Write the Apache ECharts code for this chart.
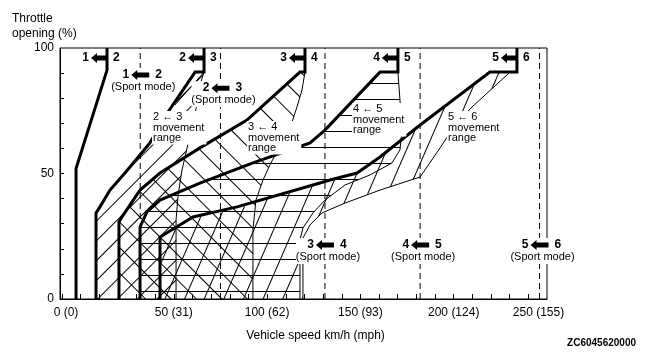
<!DOCTYPE html>
<html><head><meta charset="utf-8">
<script src="https://cdn.jsdelivr.net/npm/echarts@6/dist/echarts.min.js"></script>
<style>html,body{margin:0;padding:0;background:#fff}#c{width:646px;height:355px}</style>
</head><body><div id="c"></div>
<script>
// ---- axis ticks ----
const speedTicks = [0, 50, 100, 150, 200, 250];      // km/h
const mphTicks   = [0, 31, 62, 93, 124, 155];        // mph
const throttleTicks = [0, 50, 100];                  // %

// ---- normal-mode downshift lines (thick): [speed km/h, throttle %] ----
const line12 = [[14.2,100],[14.2,91.2],[-2.4,52],[-2.4,0]];
const line23 = [[66.2,100],[66.2,90.4],[61.4,90.4],[46.9,74.5],[37.2,62.2],[23.8,50.2],[15.8,43.4],[10.4,36.7],[8.3,34.3],[8.3,0]];
const line34 = [[120.3,100],[120.3,90.4],[117.6,90.4],[89.2,71.3],[64,60.2],[42.6,50.2],[31.9,43.4],[22.2,32.7],[20.6,30.7],[20.6,0]];
const line45 = [[170.1,100],[170.1,90.4],[160.5,90.4],[131,67.3],[123,62.2],[92.4,54.2],[64,46.2],[42.6,39.4],[35.6,34.7],[31.9,28.7],[31.9,0]];
const line56 = [[233.9,100],[233.9,90.4],[219.4,90.4],[182,69.3],[160.5,56.6],[148.2,50.2],[133.7,47.4],[128.3,46.2],[83.9,36.7],[60.3,32.7],[42.6,24.7],[42.6,0]];

// ---- outer limits of the movement ranges (thin) ----
const limit23 = [[66.2,90.4],[64,85.3],[62.4,77.3],[59.8,69.3],[57.1,60.2],[54.4,51.4],[52.3,41.4],[51.2,31.5],[51.2,0]];
const limit34 = [[120.3,90.4],[118.7,83.3],[116,76.5],[112.3,68.1],[108.5,63.3],[101.5,53.4],[97.8,47.4],[94,39.4],[92.4,27.5],[92.4,0]];
const limit45 = [[170.1,90.4],[171.2,79.3],[172.3,67.3],[171.2,59.4],[166.9,54.2],[155.1,49.4],[141.7,45.4],[131,39.4],[124.6,34.3],[119.2,28.3],[117.6,23.5],[117.6,0]];
const limit56 = [[230.2,90.4],[209.8,76.5],[200.7,69.3],[192.7,60.2],[182,48.6],[160.5,43.4],[141.7,38.2],[129.4,34.3],[123,29.5],[119.2,24.3],[119.2,0]];

// ---- caption leader line (2 <- 3) ----
const leader23 = [[66.2,90.4],[50.6,77.3]];

// ---- sport-mode shift speeds (dashed) ----
const sportSpeeds = [32, 75, 131, 182, 246];
const sportGears = [['1','2'],['2','3'],['3','4'],['4','5'],['5','6']];
const sportLabelThrottle = [89.2, 84, 21.5, 21.5, 21.5];

// ---- movement range captions ----
const rangeCaptions = ['2 \u2190 3\nmovement\nrange','3 \u2190 4\nmovement\nrange','4 \u2190 5\nmovement\nrange','5 \u2190 6\nmovement\nrange'];
const rangeCaptionAt = [[38.3,72.5],[89.2,68.5],[145.5,75.7],[196.4,72.5]];

const FONT = '"Liberation Sans", Arial, Helvetica, sans-serif';

function hatch(period, angleDeg, ox, oy) {
  const c = document.createElement('canvas');
  c.width = 8; c.height = period;
  const g = c.getContext('2d');
  g.fillStyle = '#000';
  g.fillRect(0, 0, 8, 1);
  return {image: c, repeat: 'repeat', rotation: angleDeg * Math.PI / 180, x: ox || 0, y: oy || 0};
}

function regionSeries(thick, thin, pattern) {
  const poly = thick.slice(2).concat(thin.slice().reverse());
  return {
    type: 'custom', z: 1, silent: true, animation: false, data: [0],
    renderItem: (params, api) => ({
      type: 'polygon',
      shape: {points: poly.map(p => api.coord(p))},
      style: {fill: pattern, stroke: null}
    })
  };
}
function lineSeries(data, width, type, z) {
  return {type: 'line', data, symbol: 'none', silent: true, animation: false, z,
    lineStyle: {color: '#000', width, type, join: 'miter'}};
}

function arrowPts(tipX, cy, len) {
  return [[tipX, cy], [tipX + 6, cy - 5], [tipX + 6, cy - 2.5], [tipX + len, cy - 2.5],
          [tipX + len, cy + 2.5], [tipX + 6, cy + 2.5], [tipX + 6, cy + 5]];
}

const thickLines = [line12, line23, line34, line45, line56];
const gearPairs = [['1','2'],['2','3'],['3','4'],['4','5'],['5','6']];

const annotations = {
  type: 'custom', z: 10, silent: true, animation: false, data: [0],
  renderItem: (params, api) => {
    const ch = [];
    const bold = 'bold 12px ' + FONT;
    thickLines.forEach((ln, i) => {
      const p = api.coord([ln[0][0], 96]);
      const vx = p[0], cy = p[1];
      ch.push({type: 'polygon', shape: {points: arrowPts(vx - 16, cy, 16)}, style: {fill: '#000'}});
      ch.push({type: 'text', style: {x: vx - 18, y: cy, text: gearPairs[i][0], font: bold, fill: '#000', align: 'right', verticalAlign: 'middle'}});
      ch.push({type: 'text', style: {x: vx + 6, y: cy, text: gearPairs[i][1], font: bold, fill: '#000', align: 'left', verticalAlign: 'middle'}});
    });
    sportSpeeds.forEach((s, i) => {
      const p = api.coord([s, sportLabelThrottle[i]]);
      const dx = p[0], cy = p[1];
      ch.push({type: 'rect', shape: {x: dx - 29, y: cy - 7, width: 64, height: 26}, style: {fill: '#fff'}});
      ch.push({type: 'polygon', shape: {points: arrowPts(dx - 9, cy, 18)}, style: {fill: '#000'}});
      ch.push({type: 'text', style: {x: dx - 11, y: cy, text: sportGears[i][0], font: bold, fill: '#000', align: 'right', verticalAlign: 'middle'}});
      ch.push({type: 'text', style: {x: dx + 15, y: cy, text: sportGears[i][1], font: bold, fill: '#000', align: 'left', verticalAlign: 'middle'}});
      ch.push({type: 'text', style: {x: dx + 3, y: cy + 12, text: '(Sport mode)', font: '11px ' + FONT, fill: '#000', align: 'center', verticalAlign: 'middle'}});
    });
    rangeCaptions.forEach((t, i) => {
      const p = api.coord(rangeCaptionAt[i]);
      ch.push({type: 'text', style: {x: p[0], y: p[1] - 6, text: t, font: '11px ' + FONT, lineHeight: 10.5,
        fill: '#000', align: 'left', verticalAlign: 'top', backgroundColor: '#fff', padding: [1, 2, 1, 1]}});
    });
    return {type: 'group', children: ch};
  }
};

const minorX = [];
for (let v = -10; v <= 240; v += 10) minorX.push(v);
const minorY = [10,20,30,40,50,60,70,80,90];

const series = [
  regionSeries(line23, limit23, hatch(14, -45)),
  regionSeries(line34, limit34, hatch(18, 45)),
  regionSeries(line45, limit45, hatch(16, 0, 0, 3)),
  regionSeries(line56, limit56, hatch(18, -66.5)),
  lineSeries(limit23, 1, 'solid', 2),
  lineSeries(limit34, 1, 'solid', 2),
  lineSeries(limit45, 1, 'solid', 2),
  lineSeries(limit56, 1, 'solid', 2),
  lineSeries(leader23, 1, 'solid', 2)
];
sportSpeeds.forEach(s => series.push(lineSeries([[s, 0], [s, 100]], 1, [6, 4], 2)));
thickLines.forEach(l => series.push(lineSeries(l, 3, 'solid', 3)));
series.push(annotations);

const chart = echarts.init(document.getElementById('c'), null, {renderer: 'canvas'});
chart.setOption({
  animation: false,
  backgroundColor: '#fff',
  textStyle: {fontFamily: FONT, color: '#000'},
  title: [
    {text: 'Throttle\nopening (%)', left: 7, top: 6, textStyle: {fontSize: 12, fontWeight: 'normal', color: '#000', lineHeight: 15, fontFamily: FONT}},
    {text: 'ZC6045620000', right: 5, top: 333, textStyle: {fontSize: 10, fontWeight: 'bold', color: '#000', fontFamily: FONT}}
  ],
  grid: {left: 60, right: 99, top: 48, bottom: 56, show: true, borderColor: '#000', borderWidth: 1, backgroundColor: 'transparent'},
  xAxis: {
    type: 'value', min: -11, max: 250,
    name: 'Vehicle speed km/h (mph)', nameLocation: 'middle', nameGap: 31,
    nameTextStyle: {color: '#000', fontSize: 12, fontFamily: FONT, padding: [0, 0, 0, 24]},
    axisLine: {show: true, onZero: false, lineStyle: {color: '#000', width: 1}},
    axisTick: {show: true, inside: true, length: 5, lineStyle: {color: '#000'}, customValues: minorX},
    axisLabel: {
      color: '#000', fontSize: 12, margin: 8, fontFamily: FONT, customValues: speedTicks,
      formatter: v => {
        const i = speedTicks.indexOf(v);
        const t = v + ' (' + mphTicks[i] + ')';
        if (i === 0) return '{first|' + t + '}';
        if (i === speedTicks.length - 1) return '{last|' + t + '}';
        return t;
      },
      rich: {
        first: {padding: [0, 29, 0, 0], fontSize: 12, color: '#000', fontFamily: FONT},
        last: {padding: [0, 17, 0, 0], fontSize: 12, color: '#000', fontFamily: FONT}
      }
    },
    splitLine: {show: false}
  },
  yAxis: {
    type: 'value', min: 0, max: 100,
    axisLine: {show: true, onZero: false, lineStyle: {color: '#000', width: 1}},
    axisTick: {show: true, inside: true, length: 4, lineStyle: {color: '#000'}, customValues: minorY},
    axisLabel: {color: '#000', fontSize: 12, margin: 6, fontFamily: FONT, customValues: throttleTicks},
    splitLine: {show: false}
  },
  series
});
</script>
</body></html>
